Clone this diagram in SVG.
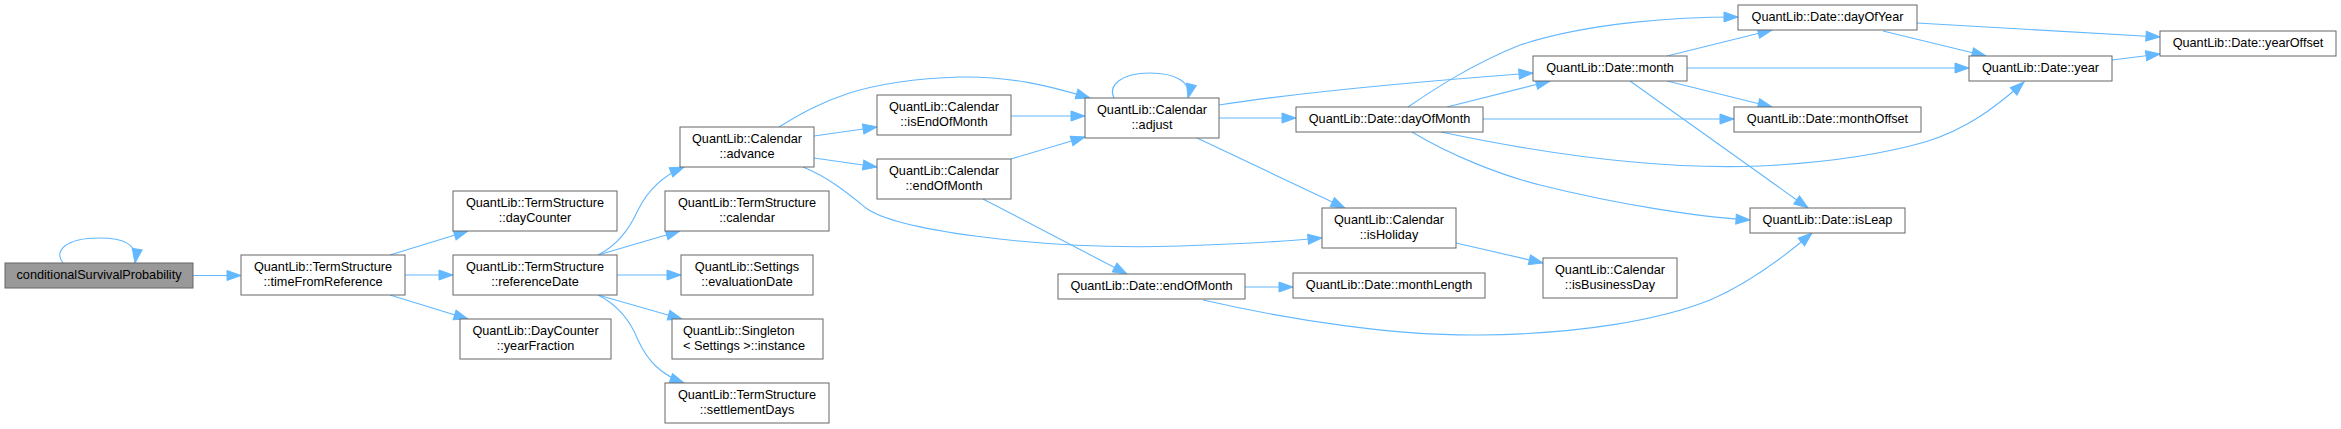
<svg xmlns="http://www.w3.org/2000/svg" width="2341" height="429" viewBox="0 0 2341 429">
<style>
.n rect{fill:#ffffff;stroke:#666666;stroke-width:1}
.n.root rect{fill:#999999}
.n text{font-family:"Liberation Sans",Arial,sans-serif;font-size:12.7px;fill:#000000;text-anchor:middle}
.n text.l{text-anchor:start}
#edges path{fill:none;stroke:#63b8ff;stroke-width:1.1;marker-end:url(#arr)}
</style>
<defs>
<marker id="arr" markerUnits="userSpaceOnUse" markerWidth="14" markerHeight="10" refX="14" refY="5" orient="auto" viewBox="0 0 14 10" overflow="visible">
<path d="M0,0 L14,5 L0,10 z" fill="#63b8ff" stroke="#63b8ff" stroke-width="1"/>
</marker>
</defs>
<rect width="2341" height="429" fill="#ffffff"/>
<g id="edges">
<path d="M63,263 C53,251 66,238 99,238 C124,238 138,244 135,263"/>
<path d="M193,275.5 L241,275.5"/>
<path d="M390,255 L468,231"/>
<path d="M405,275 L453,275"/>
<path d="M390,295 L468,319"/>
<path d="M598,255 C618,245 630,228 638,210 C648,190 662,176 684,167"/>
<path d="M598,255 L680,231"/>
<path d="M617,275 L681,275"/>
<path d="M598,295 L682,319"/>
<path d="M598,295 C618,305 630,320 638,340 C648,362 662,375 684,383"/>
<path d="M814,136 L877,127"/>
<path d="M814,158 L877,167"/>
<path d="M779,127 C820,102 860,80 960,77 C1010,76 1050,86 1090,98"/>
<path d="M803,167 C830,178 850,195 866,208 C885,222 930,230 975,236 C1050,246 1120,248 1180,246 C1240,244 1290,241 1322,238"/>
<path d="M1011,116 L1085,116"/>
<path d="M1011,159 L1085,137"/>
<path d="M1114,98 C1108,86 1120,73 1150,73 C1175,73 1192,82 1188,98"/>
<path d="M1219,118 L1296,118"/>
<path d="M1219,105 C1290,94 1400,83 1533,73"/>
<path d="M1197,138 L1345,208"/>
<path d="M983,199 L1127,274"/>
<path d="M1245,287 L1293,287"/>
<path d="M1203,300 C1300,322 1400,336 1480,335 C1580,334 1660,320 1710,300 C1750,283 1785,256 1812,233"/>
<path d="M1456,243 L1543,263"/>
<path d="M1408,107 C1430,92 1470,65 1520,45 C1590,22 1680,17 1738,17"/>
<path d="M1447,107 L1550,81"/>
<path d="M1483,119 L1734,119"/>
<path d="M1441,132 C1550,155 1660,170 1760,166 C1840,162 1890,152 1925,142 C1965,130 1995,108 2024,82"/>
<path d="M1412,132 C1450,155 1500,175 1540,185 C1620,205 1700,217 1750,220"/>
<path d="M1667,56 L1772,30"/>
<path d="M1687,68 L1969,68"/>
<path d="M1667,81 L1772,107"/>
<path d="M1630,81 L1808,208"/>
<path d="M1917,23 L2160,37"/>
<path d="M1883,31 L1986,56"/>
<path d="M2112,60 L2160,54"/>
</g>
<g id="n_csp" class="n root"><rect x="5" y="263" width="188" height="25"/><text x="99" y="279">conditionalSurvivalProbability</text></g>
<g id="n_tfr" class="n"><rect x="241" y="255" width="164" height="40"/><text x="323" y="270.5">QuantLib::TermStructure</text><text x="323" y="285.5">::timeFromReference</text></g>
<g id="n_dc" class="n"><rect x="453" y="191" width="164" height="40"/><text x="535" y="206.5">QuantLib::TermStructure</text><text x="535" y="221.5">::dayCounter</text></g>
<g id="n_rd" class="n"><rect x="453" y="255" width="164" height="40"/><text x="535" y="270.5">QuantLib::TermStructure</text><text x="535" y="285.5">::referenceDate</text></g>
<g id="n_yf" class="n"><rect x="460" y="319" width="151" height="40"/><text x="535.5" y="334.5">QuantLib::DayCounter</text><text x="535.5" y="349.5">::yearFraction</text></g>
<g id="n_adv" class="n"><rect x="680" y="127" width="134" height="40"/><text x="747" y="142.5">QuantLib::Calendar</text><text x="747" y="157.5">::advance</text></g>
<g id="n_cal" class="n"><rect x="665" y="191" width="164" height="40"/><text x="747" y="206.5">QuantLib::TermStructure</text><text x="747" y="221.5">::calendar</text></g>
<g id="n_ed" class="n"><rect x="681" y="255" width="132" height="40"/><text x="747" y="270.5">QuantLib::Settings</text><text x="747" y="285.5">::evaluationDate</text></g>
<g id="n_sing" class="n"><rect x="672" y="319" width="151" height="40"/><text class="l" x="683" y="334.5">QuantLib::Singleton</text><text class="l" x="683" y="349.5">&lt; Settings &gt;::instance</text></g>
<g id="n_sd" class="n"><rect x="665" y="383" width="164" height="40"/><text x="747" y="398.5">QuantLib::TermStructure</text><text x="747" y="413.5">::settlementDays</text></g>
<g id="n_ieom" class="n"><rect x="877" y="95" width="134" height="40"/><text x="944" y="110.5">QuantLib::Calendar</text><text x="944" y="125.5">::isEndOfMonth</text></g>
<g id="n_ceom" class="n"><rect x="877" y="159" width="134" height="40"/><text x="944" y="174.5">QuantLib::Calendar</text><text x="944" y="189.5">::endOfMonth</text></g>
<g id="n_adj" class="n"><rect x="1085" y="98" width="134" height="40"/><text x="1152" y="113.5">QuantLib::Calendar</text><text x="1152" y="128.5">::adjust</text></g>
<g id="n_hol" class="n"><rect x="1322" y="208" width="134" height="40"/><text x="1389" y="223.5">QuantLib::Calendar</text><text x="1389" y="238.5">::isHoliday</text></g>
<g id="n_deom" class="n"><rect x="1058" y="274" width="187" height="25"/><text x="1151.5" y="290">QuantLib::Date::endOfMonth</text></g>
<g id="n_dom" class="n"><rect x="1296" y="107" width="187" height="25"/><text x="1389.5" y="123">QuantLib::Date::dayOfMonth</text></g>
<g id="n_ml" class="n"><rect x="1293" y="273" width="192" height="25"/><text x="1389" y="289">QuantLib::Date::monthLength</text></g>
<g id="n_bd" class="n"><rect x="1543" y="258" width="134" height="40"/><text x="1610" y="273.5">QuantLib::Calendar</text><text x="1610" y="288.5">::isBusinessDay</text></g>
<g id="n_month" class="n"><rect x="1533" y="56" width="154" height="25"/><text x="1610" y="72">QuantLib::Date::month</text></g>
<g id="n_doy" class="n"><rect x="1738" y="5" width="179" height="25"/><text x="1827.5" y="21">QuantLib::Date::dayOfYear</text></g>
<g id="n_mo" class="n"><rect x="1734" y="107" width="187" height="25"/><text x="1827.5" y="123">QuantLib::Date::monthOffset</text></g>
<g id="n_leap" class="n"><rect x="1750" y="208" width="155" height="25"/><text x="1827.5" y="224">QuantLib::Date::isLeap</text></g>
<g id="n_year" class="n"><rect x="1969" y="56" width="143" height="25"/><text x="2040.5" y="72">QuantLib::Date::year</text></g>
<g id="n_yo" class="n"><rect x="2160" y="31" width="176" height="25"/><text x="2248" y="47">QuantLib::Date::yearOffset</text></g>
</svg>
